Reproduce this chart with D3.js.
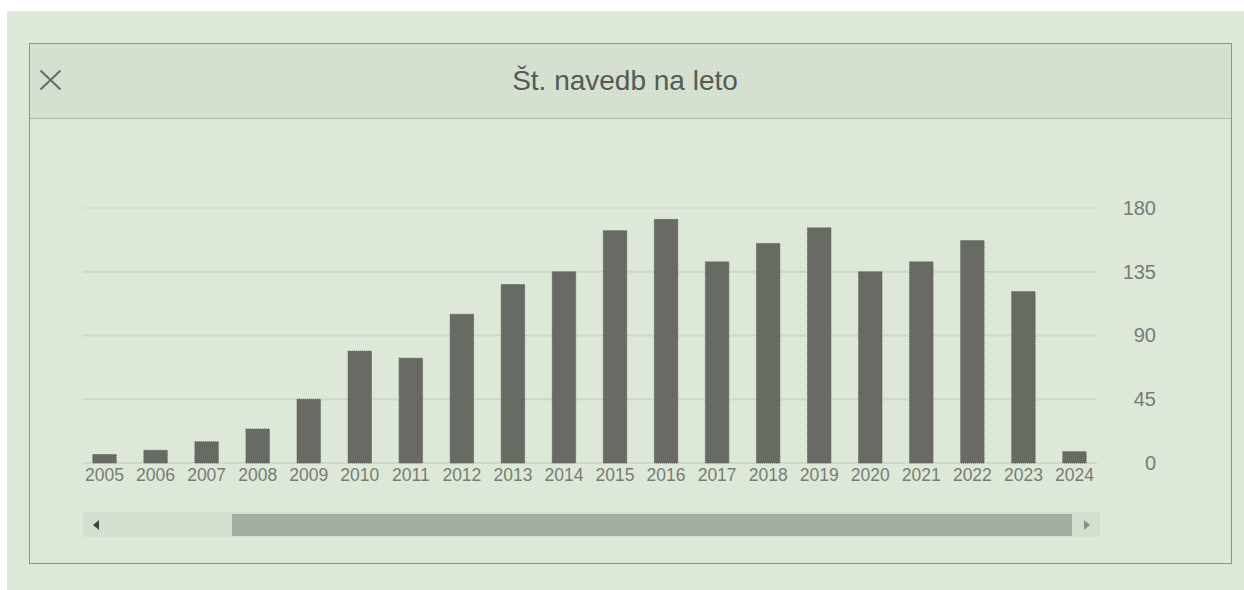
<!DOCTYPE html>
<html>
<head>
<meta charset="utf-8">
<script src="https://cdn.jsdelivr.net/npm/d3@7"></script>
<style>
  html, body { margin: 0; padding: 0; background: #ffffff; }
  svg { display: block; }
  text { font-family: "Liberation Sans", Arial, sans-serif; }
</style>
</head>
<body>
<svg id="chart" width="1244" height="590"></svg>
<script>
const title = "Št. navedb na leto";
const years = ["2005","2006","2007","2008","2009","2010","2011","2012","2013","2014",
               "2015","2016","2017","2018","2019","2020","2021","2022","2023","2024"];
const citations = [6, 9, 15, 24, 45, 79, 74, 105, 126, 135,
                   164, 172, 142, 155, 166, 135, 142, 157, 121, 8];
const yTicks = [0, 45, 90, 135, 180];

const svg = d3.select("#chart");
const defs = svg.append("defs");

const pat = defs.append("pattern").attr("id", "tex").attr("width", 4).attr("height", 4)
  .attr("patternUnits", "userSpaceOnUse");
pat.append("rect").attr("width", 4).attr("height", 4).attr("fill", "#d5e0d0");
pat.append("rect").attr("x", 0).attr("y", 0).attr("width", 1).attr("height", 1).attr("fill", "#ccd8c7");
pat.append("rect").attr("x", 2).attr("y", 2).attr("width", 1).attr("height", 1).attr("fill", "#dbe5d6");

const pat2 = defs.append("pattern").attr("id", "tex2").attr("width", 3).attr("height", 3)
  .attr("patternUnits", "userSpaceOnUse");
pat2.append("rect").attr("width", 3).attr("height", 3).attr("fill", "#a5afa1");
pat2.append("rect").attr("x", 1).attr("y", 1).attr("width", 1).attr("height", 1).attr("fill", "#9aa596");

// page background
svg.append("rect").attr("x", 7).attr("y", 11).attr("width", 1237).attr("height", 579).attr("fill", "#dee8d8");

// panel
svg.append("rect").attr("x", 29.5).attr("y", 43.5).attr("width", 1202).attr("height", 520)
  .attr("fill", "#dee8d8").attr("stroke", "#8c9489").attr("stroke-width", 1);
svg.append("rect").attr("x", 30).attr("y", 44).attr("width", 1201).attr("height", 74).attr("fill", "url(#tex)");
svg.append("line").attr("x1", 30).attr("x2", 1231).attr("y1", 118.5).attr("y2", 118.5)
  .attr("stroke", "#aeb9aa").attr("stroke-width", 1);

// close icon
svg.append("path").attr("d", "M40.5,70.5 L60.5,89.5 M60.5,70.5 L40.5,89.5")
  .attr("stroke", "#676b66").attr("stroke-width", 2).attr("fill", "none");

svg.append("text").attr("x", 625).attr("y", 90).attr("text-anchor", "middle")
  .attr("font-size", 28).attr("fill", "#555a55").text(title);

// scales
const x = d3.scaleBand().domain(years).range([79, 1100]).paddingInner(0.54).paddingOuter(0.27);
const y = d3.scaleLinear().domain([0, 180]).range([463, 208]);

// gridlines
svg.append("g").selectAll("line").data(yTicks).join("line")
  .attr("x1", 83).attr("x2", 1097)
  .attr("y1", d => y(d)).attr("y2", d => y(d))
  .attr("stroke", "#cdd8c9").attr("stroke-width", 2)
  .attr("stroke-dasharray", d => d === 180 ? "2,2" : null);

// bars
svg.append("g").selectAll("rect").data(years).join("rect")
  .attr("x", d => x(d)).attr("width", x.bandwidth())
  .attr("y", (d, i) => y(citations[i]))
  .attr("height", (d, i) => y(0) - y(citations[i]))
  .attr("fill", "#676b63").attr("stroke", "#5a5e57").attr("stroke-width", 1)
  .attr("stroke-dasharray", "1,1");

// x axis
const xAxis = svg.append("g").attr("transform", "translate(0,464)")
  .call(d3.axisBottom(x).tickSize(0).tickPadding(4));
xAxis.select(".domain").remove();
xAxis.selectAll("text").attr("font-size", 17.5).attr("fill", "#777c76")
  .attr("font-family", "Liberation Sans, Arial, sans-serif").attr("dy", "0.72em");

// y axis
const yAxis = svg.append("g").attr("transform", "translate(1156,0)")
  .call(d3.axisRight(y).tickValues(yTicks).tickSize(0).tickPadding(0));
yAxis.select(".domain").remove();
yAxis.selectAll("text").attr("font-size", 20).attr("fill", "#777c76")
  .attr("text-anchor", "end").attr("x", 0)
  .attr("font-family", "Liberation Sans, Arial, sans-serif");

// scrollbar
svg.append("rect").attr("x", 83).attr("y", 512).attr("width", 1017).attr("height", 25).attr("fill", "#d4dfd0");
svg.append("rect").attr("x", 232).attr("y", 514).attr("width", 840).attr("height", 22).attr("fill", "url(#tex2)");
svg.append("path").attr("d", "M93,525 L99,520 L99,530 Z").attr("fill", "#3f433e");
svg.append("path").attr("d", "M1090,525 L1084,520 L1084,530 Z").attr("fill", "#8a9087");
</script>
</body>
</html>
